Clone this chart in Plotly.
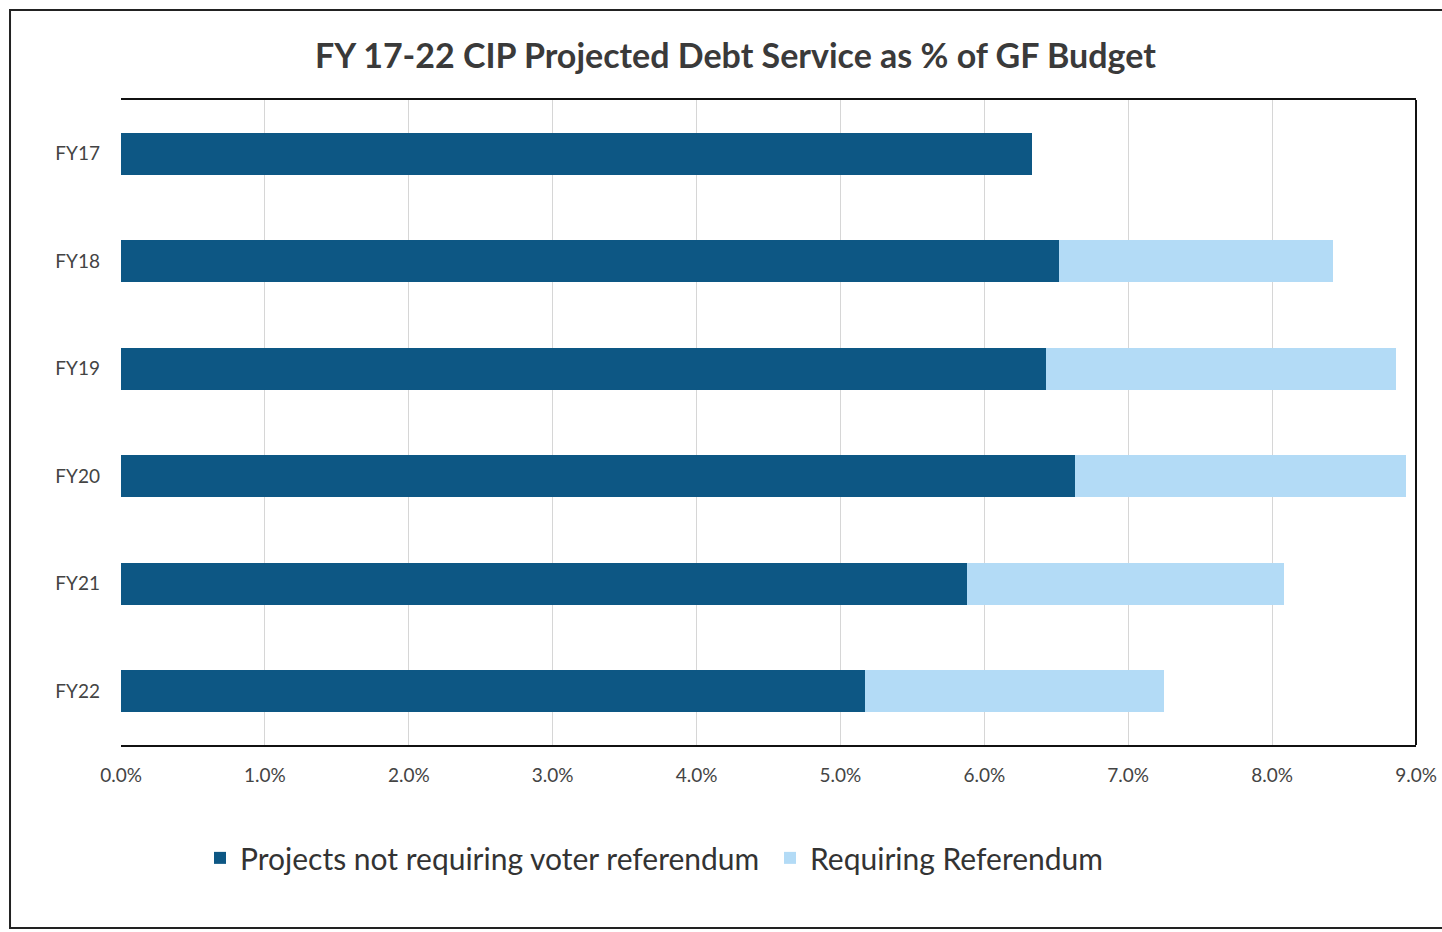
import plotly.graph_objects as go

# Fiscal years and debt service shares (% of General Fund budget)
years = ["FY17", "FY18", "FY19", "FY20", "FY21", "FY22"]
no_referendum = [6.33, 6.52, 6.43, 6.63, 5.88, 5.17]
referendum = [0.0, 1.90, 2.43, 2.30, 2.20, 2.08]
x_ticks = [0, 1, 2, 3, 4, 5, 6, 7, 8, 9]
x_tick_labels = ["0.0%", "1.0%", "2.0%", "3.0%", "4.0%", "5.0%", "6.0%", "7.0%", "8.0%", "9.0%"]

DARK = "#0d5784"
LIGHT = "#b3dbf6"
FONT = "Lato, 'Open Sans', sans-serif"

fig = go.Figure()
fig.add_trace(go.Bar(
    y=years, x=no_referendum, orientation="h",
    name="Projects not requiring voter referendum",
    marker=dict(color=DARK, line=dict(width=0)),
))
fig.add_trace(go.Bar(
    y=years, x=referendum, orientation="h",
    name="Requiring Referendum",
    marker=dict(color=LIGHT, line=dict(width=0)),
))

fig.update_layout(
    width=1442, height=932,
    barmode="stack",
    bargap=0.61,
    paper_bgcolor="white",
    plot_bgcolor="white",
    margin=dict(l=121, r=26, t=100, b=187, autoexpand=False),
    font=dict(family=FONT, color="#404040"),
    title=dict(
        text="<b>FY 17-22 CIP Projected Debt Service as % of GF Budget</b>",
        x=0.51, xref="container", xanchor="center",
        y=0.94, yref="container", yanchor="middle",
        font=dict(size=34, color="#3a3a3a", family=FONT),
    ),
    xaxis=dict(
        range=[0, 9],
        tickvals=x_ticks, ticktext=x_tick_labels,
        showgrid=True, gridcolor="#d6d6d6", gridwidth=1,
        zeroline=False,
        showline=True, linecolor="#111111", linewidth=2, mirror=True,
        ticks="", ticklabelstandoff=12,
        tickfont=dict(size=19, color="#444444"),
        automargin=False,
        fixedrange=True,
    ),
    yaxis=dict(
        autorange="reversed",
        showgrid=False, zeroline=False,
        showline=False,
        ticks="", ticklabelstandoff=20,
        tickfont=dict(size=19, color="#444444"),
        automargin=False,
        fixedrange=True,
    ),
    legend=dict(
        orientation="h",
        x=0.061, xanchor="left",
        y=-0.175, yanchor="middle",
        font=dict(size=30, color="#333333", family=FONT),
        itemsizing="constant",
        traceorder="normal",
        entrywidth=525, entrywidthmode="pixels",
    ),
    shapes=[
        # right edge of the plot area
        dict(type="line", xref="paper", yref="paper", x0=1, x1=1, y0=0, y1=1,
             line=dict(color="#111111", width=2)),
        # outer chart frame
        dict(type="rect", xref="paper", yref="paper",
             x0=-0.0857, x1=1.05, y0=-0.2837, y1=1.1395,
             line=dict(color="#222222", width=2), fillcolor="rgba(0,0,0,0)"),
    ],
    showlegend=True,
)

fig.write_html("out.html")
